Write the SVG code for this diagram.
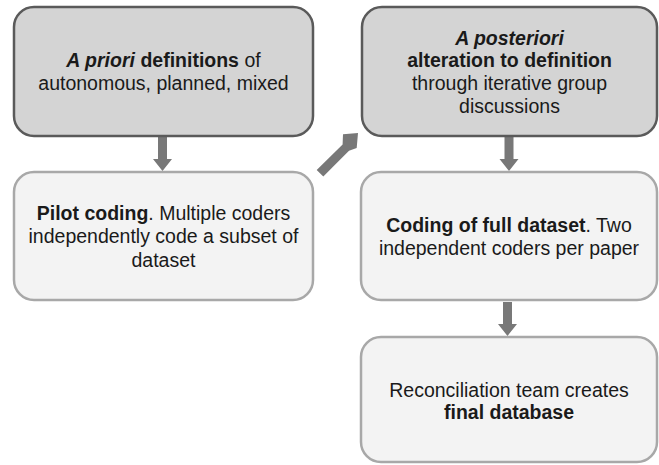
<svg xmlns="http://www.w3.org/2000/svg" width="659" height="465" viewBox="0 0 659 465">
  <style>
    .dark { fill: #d4d4d4; stroke: #5a5a5a; stroke-width: 2.5; }
    .light { fill: #f3f3f3; stroke: #a8a8a8; stroke-width: 2.5; }
    text { font-family: "Liberation Sans", Arial, sans-serif; font-size: 19.5px; fill: #1a1a1a; text-anchor: middle; }
    .b { font-weight: bold; }
    .i { font-style: italic; }
    .arrow { fill: #787878; }
  </style>

  <g id="connectors">
    <!-- a priori -> pilot -->
    <polygon class="arrow" points="158,137 167,137 167,159 172,159 162.5,171 153,159 158,159"/>
    <!-- pilot -> a posteriori (diagonal) -->
    <polygon class="arrow" points="316.7,170 323.3,176.5 349,150.8 356.7,148 358,133 343,134.3 342.6,144.4"/>
    <!-- a posteriori -> full dataset -->
    <polygon class="arrow" points="504.5,137 513.5,137 513.5,159 518.5,159 509,171 499.5,159 504.5,159"/>
    <!-- full dataset -> reconciliation -->
    <polygon class="arrow" points="503,302 512,302 512,324 517,324 507.5,336 498,324 503,324"/>
  </g>

  <g id="apriori">
    <rect class="dark" x="14" y="7" width="299" height="129" rx="20"/>
    <text x="163.5" y="66.5"><tspan class="b i">A priori</tspan><tspan class="b"> definitions</tspan> of</text>
    <text x="163.5" y="89.5">autonomous, planned, mixed</text>
  </g>

  <g id="aposteriori">
    <rect class="dark" x="362" y="7" width="295" height="129" rx="20"/>
    <text x="509.5" y="44.5" class="b i">A posteriori</text>
    <text x="509.5" y="67" class="b">alteration to definition</text>
    <text x="509.5" y="90">through iterative group</text>
    <text x="509.5" y="113">discussions</text>
  </g>

  <g id="pilot">
    <rect class="light" x="14" y="172" width="299" height="128" rx="20"/>
    <text x="163.5" y="220"><tspan class="b">Pilot coding</tspan>. Multiple coders</text>
    <text x="163.5" y="243">independently code a subset of</text>
    <text x="163.5" y="266.5">dataset</text>
  </g>

  <g id="fulldataset">
    <rect class="light" x="361" y="172" width="296" height="128" rx="20"/>
    <text x="509" y="232"><tspan class="b">Coding of full dataset</tspan>. Two</text>
    <text x="509" y="254.5">independent coders per paper</text>
  </g>

  <g id="reconciliation">
    <rect class="light" x="361" y="337" width="296" height="125" rx="20"/>
    <text x="509" y="397">Reconciliation team creates</text>
    <text x="509" y="418.5" class="b">final database</text>
  </g>
</svg>
